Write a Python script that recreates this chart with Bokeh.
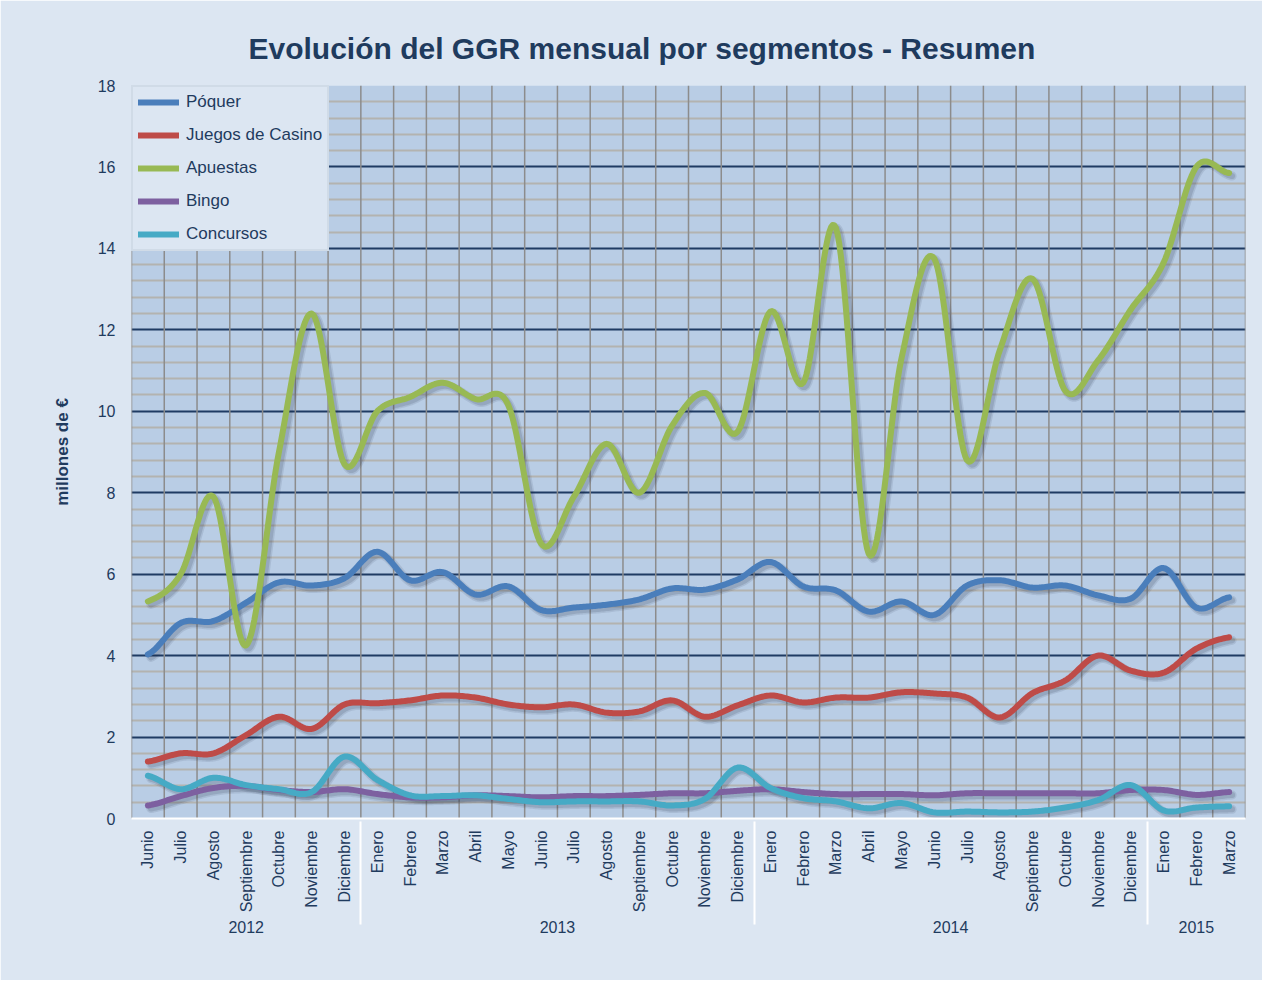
import math
import numpy as np
from bokeh.plotting import figure
from bokeh.models import FactorRange, Range1d, FixedTicker, Legend, LegendItem
from bokeh.embed import file_html
from bokeh.resources import INLINE

# ---------------- data ----------------
years = ["2012", "2013", "2014", "2015"]
months_by_year = [
    ["Junio", "Julio", "Agosto", "Septiembre", "Octubre", "Noviembre", "Diciembre"],
    ["Enero", "Febrero", "Marzo", "Abril", "Mayo", "Junio", "Julio", "Agosto",
     "Septiembre", "Octubre", "Noviembre", "Diciembre"],
    ["Enero", "Febrero", "Marzo", "Abril", "Mayo", "Junio", "Julio", "Agosto",
     "Septiembre", "Octubre", "Noviembre", "Diciembre"],
    ["Enero", "Febrero", "Marzo"],
]

poquer = [4.03, 4.8, 4.85, 5.3, 5.8, 5.72, 5.9,
          6.55, 5.85, 6.05, 5.5, 5.7, 5.12, 5.18, 5.25, 5.38, 5.65, 5.62, 5.87,
          6.3, 5.7, 5.6, 5.08, 5.33, 5.0, 5.72, 5.85, 5.67, 5.72, 5.48, 5.4,
          6.15, 5.18, 5.43]
casino = [1.4, 1.6, 1.6, 2.05, 2.5, 2.2, 2.8,
          2.83, 2.9, 3.02, 2.97, 2.8, 2.73, 2.8, 2.6, 2.63, 2.9, 2.5, 2.78,
          3.02, 2.85, 2.97, 2.97, 3.1, 3.07, 2.97, 2.48, 3.08, 3.39, 4.0, 3.63,
          3.58, 4.17, 4.45]
apuestas = [5.33, 6.0, 7.9, 4.25, 9.0, 12.4, 8.7,
            10.0, 10.35, 10.7, 10.3, 10.15, 6.75, 7.9, 9.2, 8.0, 9.65, 10.45, 9.5,
            12.45, 10.7, 14.5, 6.5, 11.3, 13.75, 8.8, 11.5, 13.25, 10.5, 11.25, 12.5,
            13.65, 16.0, 15.85]
bingo = [0.32, 0.55, 0.75, 0.8, 0.7, 0.65, 0.72,
         0.6, 0.52, 0.52, 0.57, 0.55, 0.52, 0.55, 0.55, 0.58, 0.62, 0.62, 0.68,
         0.72, 0.65, 0.6, 0.6, 0.6, 0.57, 0.62, 0.62, 0.62, 0.62, 0.62, 0.7,
         0.7, 0.58, 0.65]
concursos = [1.05, 0.72, 1.0, 0.82, 0.72, 0.65, 1.52,
             0.95, 0.57, 0.55, 0.57, 0.48, 0.4, 0.42, 0.42, 0.42, 0.32, 0.48, 1.25,
             0.75, 0.5, 0.42, 0.25, 0.38, 0.15, 0.17, 0.15, 0.17, 0.27, 0.45, 0.82,
             0.2, 0.27, 0.3]

series_names = ["Póquer", "Juegos de Casino", "Apuestas", "Bingo", "Concursos"]
series_values = [poquer, casino, apuestas, bingo, concursos]
series_colors = ["#4a7ebb", "#be4b48", "#98b954", "#7d60a0", "#46aac5"]

# ---------------- styling ----------------
FONT = "Liberation Sans"
NAVY = "#1f3b5e"
BG = "#dce6f2"

factors = [(y, m) for y, ms in zip(years, months_by_year) for m in ms]
n = len(factors)


def smooth(vals, steps=20):
    """Catmull-Rom curve through the points (Excel-like smoothed line)."""
    v = list(vals)
    P = [v[0]] + v + [v[-1]]
    xs, ys = [], []
    t = np.linspace(0, 1, steps, endpoint=False)
    for i in range(len(v) - 1):
        p0, p1, p2, p3 = P[i], P[i + 1], P[i + 2], P[i + 3]
        y = 0.5 * (2 * p1 + (-p0 + p2) * t + (2 * p0 - 5 * p1 + 4 * p2 - p3) * t ** 2
                   + (-p0 + 3 * p1 - 3 * p2 + p3) * t ** 3)
        xs.extend(i + 0.5 + t)
        ys.extend(y)
    xs.append(len(v) - 0.5)
    ys.append(v[-1])
    return np.array(xs), np.array(ys)


p = figure(
    x_range=FactorRange(*factors, factor_padding=0, group_padding=0, range_padding=0),
    y_range=Range1d(0, 18),
    width=1262, height=980,
    min_border_left=131, min_border_right=17, min_border_top=85, min_border_bottom=162,
    output_backend="svg", toolbar_location=None,
)
p.background_fill_color = "#b9cde5"
p.border_fill_color = BG
p.outline_line_color = None

p.title.text = "Evolución del GGR mensual por segmentos - Resumen"
p.title.text_font = FONT
p.title.text_font_size = "30px"
p.title.text_font_style = "bold"
p.title.text_color = NAVY
p.title.align = "left"
p.title.offset = 117
p.title.standoff = 42

# y axis / grid
minor = [round(i * 0.4, 1) for i in range(46) if round(i * 0.4, 1) % 2 != 0]
ticker = FixedTicker(ticks=list(range(0, 19, 2)), minor_ticks=minor)
p.yaxis.ticker = ticker
p.ygrid.ticker = ticker
p.yaxis.axis_line_color = None
p.yaxis.major_tick_line_color = None
p.yaxis.minor_tick_line_color = None
p.yaxis.major_label_standoff = 10
p.yaxis.major_label_text_font = FONT
p.yaxis.major_label_text_font_size = "16px"
p.yaxis.major_label_text_color = NAVY
p.yaxis.axis_label = "millones de €"
p.yaxis.axis_label_text_font = FONT
p.yaxis.axis_label_text_font_size = "17px"
p.yaxis.axis_label_text_font_style = "bold"
p.yaxis.axis_label_text_color = NAVY
p.yaxis.axis_label_standoff = 23
p.ygrid.grid_line_color = "#1f3b63"
p.ygrid.grid_line_width = 2
p.ygrid.minor_grid_line_color = "#b3b3b0"
p.ygrid.minor_grid_line_width = 2
p.ygrid.level = "underlay"
p.xgrid.grid_line_color = None

# x axis
xa = p.xaxis[0]
xa.axis_line_color = "white"
xa.axis_line_width = 2
xa.major_tick_line_color = None
xa.major_label_orientation = math.pi / 2
xa.major_label_standoff = 6
xa.major_label_text_font = FONT
xa.major_label_text_font_size = "16px"
xa.major_label_text_color = NAVY
xa.group_text_font = FONT
xa.group_text_font_size = "16px"
xa.group_text_font_style = "normal"
xa.group_text_color = NAVY
xa.separator_line_color = "white"
xa.separator_line_width = 2

# vertical category boundary lines
bx = list(range(n + 1))
p.segment(x0=bx, y0=[0] * len(bx), x1=bx, y1=[18] * len(bx),
          line_color="#8c8c8c", line_width=1.5)

# shadows
dx, dy = 3 / 32.76, 3 / 40.72
for vals in series_values:
    xs, ys = smooth(vals)
    p.line(xs + dx, ys - dy, line_color="#1a2a40", line_alpha=0.10, line_width=9,
           line_join="round", line_cap="round")
    p.line(xs + dx, ys - dy, line_color="#1a2a40", line_alpha=0.14, line_width=6,
           line_join="round", line_cap="round")

items = []
for name, vals, col in zip(series_names, series_values, series_colors):
    xs, ys = smooth(vals)
    r = p.line(xs, ys, line_color=col, line_width=6, line_join="round", line_cap="round")
    items.append(LegendItem(label=name, renderers=[r]))

legend = Legend(items=items, location="top_left")
legend.margin = 0
legend.padding = 5
legend.spacing = 13
legend.glyph_width = 41
legend.glyph_height = 20
legend.label_height = 20
legend.label_standoff = 7
legend.label_text_font = FONT
legend.label_text_font_size = "17px"
legend.label_text_color = NAVY
legend.background_fill_color = BG
legend.background_fill_alpha = 1
legend.border_line_color = "#c3cfdc"
legend.border_line_width = 2
p.add_layout(legend)

open("out.html", "w").write(file_html(p, INLINE))
